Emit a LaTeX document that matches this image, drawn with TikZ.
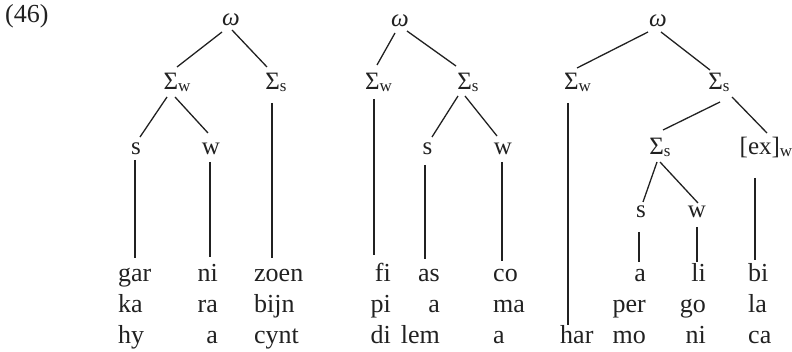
\documentclass[tikz,border=0pt]{standalone}
\usepackage{fontspec}
\setmainfont{Liberation Serif}
\usetikzlibrary{calc}
\definecolor{ink}{gray}{0.13}
% category label with a lowered small subscript
\newcommand{\Sub}[2]{#1\raisebox{-1.5pt}{\fontsize{17}{17}\selectfont #2}}
\begin{document}
\begin{tikzpicture}[x=1pt,y=-1pt,
  lab/.style={inner sep=0pt, anchor=base, font=\fontsize{25}{30}\selectfont, text=ink},
  word/.style={inner sep=0pt, font=\fontsize{26}{30}\selectfont, text=ink},
  wl/.style={word, anchor=base west},
  wr/.style={word, anchor=base east},
  branch/.style={draw=ink, line width=1.3pt}]
\useasboundingbox (0,0) rectangle (792,352);

\node[wl] (num) at (5,23) {(46)};

% ---------- first tree: garnizoen ----------
\node[lab] (o1)  at (231,26) {\textit{ω}};
\node[lab] (sw1) at (177,90) {\Sub{Σ}{w}};
\node[lab] (ss1) at (276,90) {\Sub{Σ}{s}};
\node[lab] (s1)  at (136,155) {s};
\node[lab] (w1)  at (211,155) {w};

\node[wl] (c1r1) at (118,282) {gar};
\node[wl] (c1r2) at (118,313) {ka};
\node[wl] (c1r3) at (118,344) {hy};
\node[wr] (c2r1) at (218,282) {ni};
\node[wr] (c2r2) at (218,313) {ra};
\node[wr] (c2r3) at (218,344) {a};
\node[wl] (c3r1) at (254,282) {zoen};
\node[wl] (c3r2) at (254,313) {bijn};
\node[wl] (c3r3) at (254,344) {cynt};

\draw[branch] ($(o1.base)+(-9,6)$) -- ($(sw1.base)+(0,-23)$);
\draw[branch] ($(o1.base)+(1,4)$) -- ($(ss1.base)+(-9,-23)$);
\draw[branch] ($(sw1.base)+(-10,7)$) -- ($(s1.base)+(4,-18)$);
\draw[branch] ($(sw1.base)+(-2,7)$) -- ($(w1.base)+(-3,-22)$);
\draw[branch] ($(s1.base)+(-1,5)$) -- ($(s1.base |- c1r1.base)+(-1,-24)$);
\draw[branch] ($(w1.base)+(-1,7)$) -- ($(w1.base |- c2r1.base)+(-1,-25)$);
\draw[branch] ($(ss1.base)+(-4,13)$) -- ($(ss1.base |- c3r1.base)+(-4,-24)$);

% ---------- second tree: fipiadi / aslem / comaa ----------
\node[lab] (o2)  at (400,27) {\textit{ω}};
\node[lab] (sw2) at (378.5,90) {\Sub{Σ}{w}};
\node[lab] (ss2) at (468,90) {\Sub{Σ}{s}};
\node[lab] (s2)  at (427.5,155) {s};
\node[lab] (w2)  at (503,155) {w};

\node[wr] (c4r1) at (391,282) {fi};
\node[wr] (c4r2) at (391,313) {pi};
\node[wr] (c4r3) at (391,344) {di};
\node[wr] (c5r1) at (440,282) {as};
\node[wr] (c5r2) at (440,313) {a};
\node[wr] (c5r3) at (440,344) {lem};
\node[wl] (c6r1) at (493,282) {co};
\node[wl] (c6r2) at (493,313) {ma};
\node[wl] (c6r3) at (493,344) {a};

\draw[branch] ($(o2.base)+(-5,6)$) -- ($(sw2.base)+(-1.5,-25)$);
\draw[branch] ($(o2.base)+(7,4)$) -- ($(ss2.base)+(-12,-24)$);
\draw[branch] ($(ss2.base)+(-10,6)$) -- ($(s2.base)+(4.5,-18)$);
\draw[branch] ($(ss2.base)+(-3,6)$) -- ($(w2.base)+(-6,-19)$);
\draw[branch] ($(sw2.base)+(-4.5,9)$) -- ($(sw2.base |- c4r1.base)+(-4.5,-27)$);
\draw[branch] ($(s2.base)+(-2.5,10)$) -- ($(s2.base |- c5r1.base)+(-2.5,-23)$);
\draw[branch] ($(w2.base)+(-1,7)$) -- ($(w2.base |- c6r1.base)+(-1,-21)$);

% ---------- third tree: harmonica / pergola / alibi ----------
\node[lab] (o3)   at (658,27) {\textit{ω}};
\node[lab] (sw3)  at (577.5,90) {\Sub{Σ}{w}};
\node[lab] (ss3)  at (719,90) {\Sub{Σ}{s}};
\node[lab] (ssm3) at (660,155) {\Sub{Σ}{s}};
\node[lab] (ex3)  at (766,155) {\Sub{[ex]}{w}};
\node[lab] (s3)   at (641,218) {s};
\node[lab] (w3)   at (697,218) {w};

\node[wl] (c7r3) at (560,344) {har};
\node[wr] (c8r1) at (646,282) {a};
\node[wr] (c8r2) at (646,313) {per};
\node[wr] (c8r3) at (646,344) {mo};
\node[wr] (c9r1) at (706,282) {li};
\node[wr] (c9r2) at (706,313) {go};
\node[wr] (c9r3) at (706,344) {ni};
\node[wl] (c10r1) at (748,282) {bi};
\node[wl] (c10r2) at (748,313) {la};
\node[wl] (c10r3) at (748,344) {ca};

\draw[branch] ($(o3.base)+(-10,5)$) -- ($(sw3.base)+(-0.5,-22)$);
\draw[branch] ($(o3.base)+(3,5)$) -- ($(ss3.base)+(-9,-20)$);
\draw[branch] ($(ss3.base)+(1,12)$) -- ($(ssm3.base)+(3,-25)$);
\draw[branch] ($(ss3.base)+(13,7)$) -- ($(ex3.base)+(1,-22)$);
\draw[branch] ($(ssm3.base)+(-3,7)$) -- ($(s3.base)+(2,-16)$);
\draw[branch] ($(ssm3.base)+(0,7)$) -- ($(w3.base)+(1,-15)$);
\draw[branch] ($(sw3.base)+(-9.5,13)$) -- ($(sw3.base |- c7r3.base)+(-9.5,-19)$);
\draw[branch] ($(ex3.base)+(-11,23)$) -- ($(ex3.base |- c10r1.base)+(-11,-22)$);
\draw[branch] ($(s3.base)+(-2,14)$) -- ($(s3.base |- c8r1.base)+(-2,-20)$);
\draw[branch] ($(w3.base)+(0,9)$) -- ($(w3.base |- c9r1.base)+(0,-20)$);
\end{tikzpicture}
\end{document}
